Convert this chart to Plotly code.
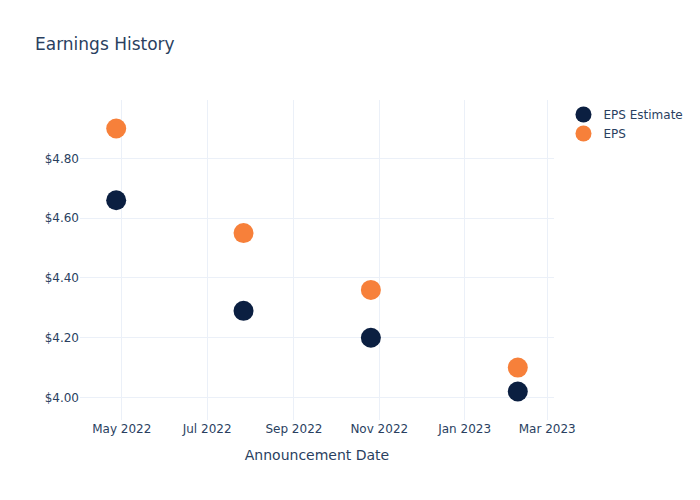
import plotly.graph_objects as go

dates = ["2022-04-27", "2022-07-27", "2022-10-26", "2023-02-08"]
eps_estimate = [4.66, 4.29, 4.20, 4.02]
eps_actual = [4.90, 4.55, 4.36, 4.10]

fig = go.Figure()
fig.add_trace(go.Scatter(x=dates, y=eps_estimate, mode="markers", name="EPS Estimate",
                         marker=dict(color="#0B1F41", size=20)))
fig.add_trace(go.Scatter(x=dates, y=eps_actual, mode="markers", name="EPS",
                         marker=dict(color="#F7803A", size=20)))
fig.update_layout(
    template="plotly_white",
    width=700, height=500,
    font=dict(family="DejaVu Sans"),
    title=dict(text="Earnings History"),
    xaxis=dict(title=dict(text="Announcement Date"), tickformat="%b %Y", dtick="M2"),
    yaxis=dict(tickprefix="$", tickformat=".2f"),
)
fig.write_html("out.html")
